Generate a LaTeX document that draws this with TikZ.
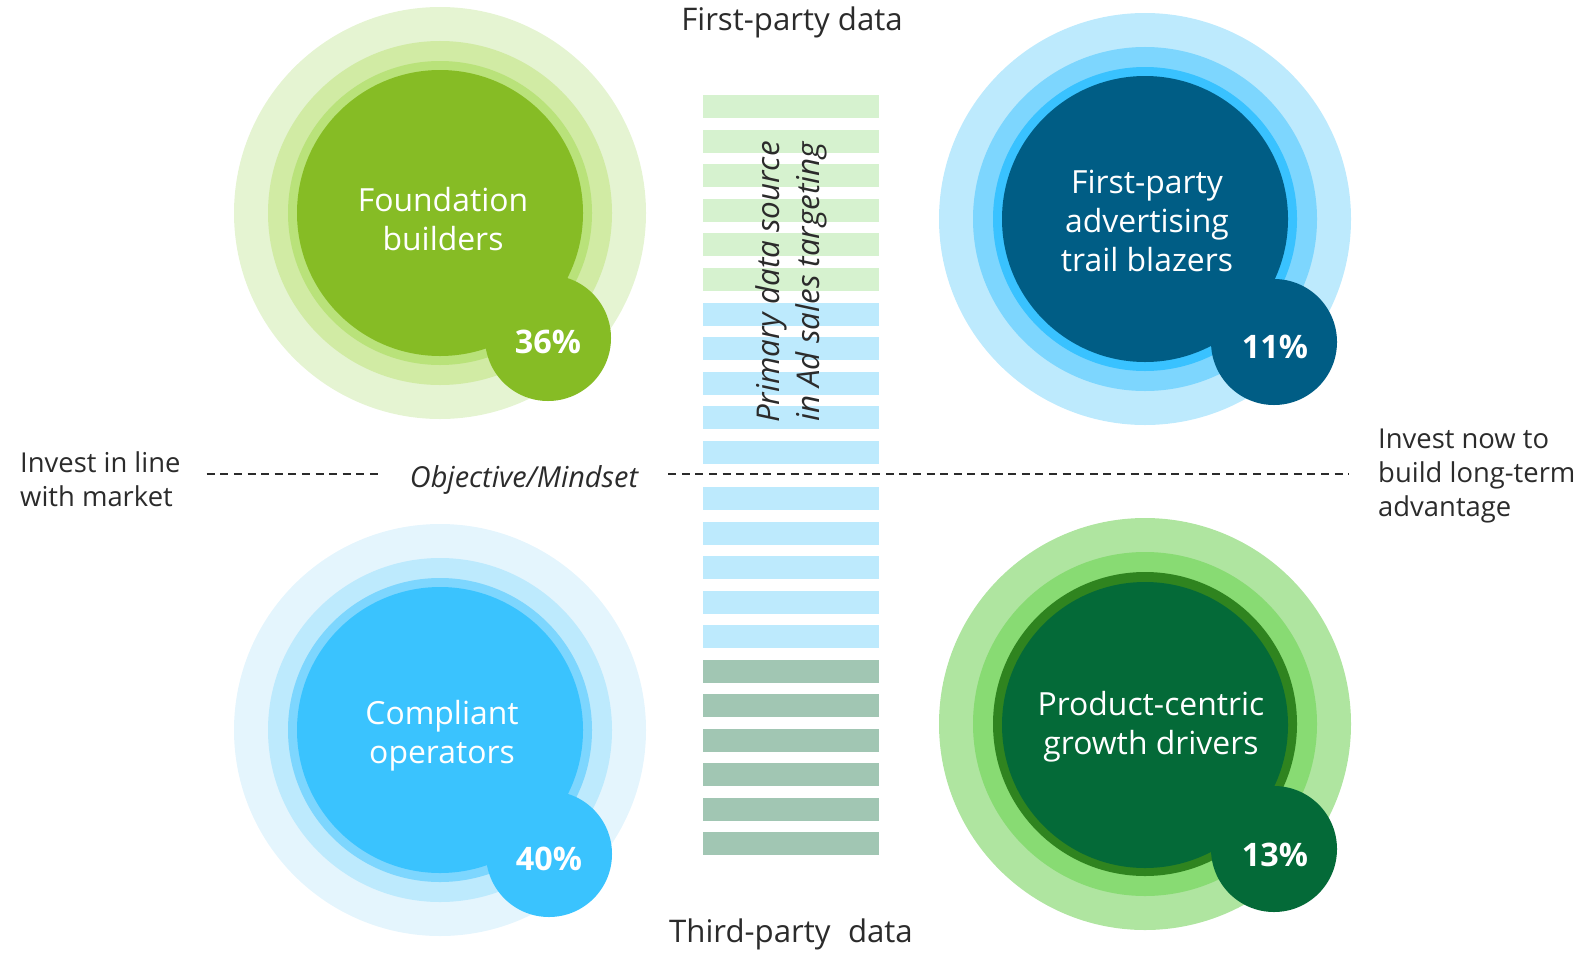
\documentclass[tikz,border=0pt]{standalone}
\usepackage{fontspec}
\setmainfont{Open Sans}
\usetikzlibrary{positioning}
% segment palettes: three halo rings, then the core
\definecolor{fbRingA}{HTML}{E5F4D2}
\definecolor{fbRingB}{HTML}{D1EBA4}
\definecolor{fbRingC}{HTML}{B9E27A}
\definecolor{fbCore}{HTML}{86BC25}
\definecolor{tbRingA}{HTML}{BDEAFD}
\definecolor{tbRingB}{HTML}{7DD6FE}
\definecolor{tbRingC}{HTML}{39C2FF}
\definecolor{tbCore}{HTML}{005D85}
\definecolor{coRingA}{HTML}{E4F5FD}
\definecolor{coRingB}{HTML}{BDEAFD}
\definecolor{coRingC}{HTML}{7DD6FE}
\definecolor{coCore}{HTML}{3AC3FE}
\definecolor{gdRingA}{HTML}{AFE5A0}
\definecolor{gdRingB}{HTML}{88DB73}
\definecolor{gdRingC}{HTML}{2F841F}
\definecolor{gdCore}{HTML}{046A38}
% data-source column
\definecolor{barFirst}{HTML}{D6F2CF}
\definecolor{barMixed}{HTML}{BDEAFD}
\definecolor{barThird}{HTML}{A1C6B3}
\definecolor{txtGray}{HTML}{2B2B2B}
\tikzset{
  % Plain filled disc, no outline.
  disc/.style={circle, inner sep=0pt, draw=none, minimum size=#1},
  % Segment name inside the core.
  seglabel/.style={text=white, align=center, inner sep=0pt,
                   font=\fontsize{32}{39}\selectfont},
  % Share badge at the lower right of the core.
  pct/.style={disc=126bp, text=white, font=\fontsize{32.5}{36}\selectfont\bfseries},
  pcttext/.style={text=white, inner sep=0pt, font=\fontsize{32.5}{36}\selectfont\bfseries},
  % Axis captions.
  sidetext/.style={text=txtGray, inner sep=0pt, font=\fontsize{27.5}{34.5}\selectfont},
  midline/.style={draw=txtGray, line width=2bp, dash pattern=on 8bp off 5.6bp},
}

\begin{document}
\begin{tikzpicture}[x=1bp, y=-1bp]
\useasboundingbox (0,0) rectangle (1588,953);

% data-source column
\foreach \i in {0,...,5}{\fill[barFirst] (703,{95+34.6*\i}) rectangle +(176,23);}
\foreach \i in {6,...,10}{\fill[barMixed] (703,{95+34.6*\i}) rectangle +(176,23);}
\foreach \i in {0,...,4}{\fill[barMixed] (703,{487+34.5*\i}) rectangle +(176,23);}
\foreach \i in {5,...,10}{\fill[barThird] (703,{487+34.5*\i}) rectangle +(176,23);}
\node[sidetext, rotate=90, align=center, font=\fontsize{31.5}{40}\selectfont\itshape]
     (source) at (791,282) {Primary data source\\in Ad sales targeting};

\node[sidetext, font=\fontsize{31.3}{36}\selectfont] (first) at (792,22) {First-party data};
\node[sidetext, font=\fontsize{31.3}{36}\selectfont] (third) at (791,934)
     {Third-party\hspace{0.3em} data};

% objective axis
\coordinate (midY) at (0,474);
\node[sidetext, anchor=west, align=left] (inLine) at (20,479) {Invest in line\\with market};
\node[sidetext, font=\fontsize{29}{35}\selectfont\itshape] (mind) at (524,480) {Objective/Mindset};
\node[sidetext, anchor=west, align=left] (longTerm) at (1378,476)
     {Invest now to\\build long-term\\advantage};
\draw[midline, shorten <=26bp, shorten >=27bp] (inLine.east |- midY) -- (mind.west |- midY);
\draw[midline, shorten <=30bp, shorten >=29bp] (mind.east |- midY) -- (longTerm.west |- midY);

% Foundation builders
\foreach \d/\c in {412/fbRingA,344/fbRingB,304/fbRingC}{
  \node[disc=\d bp, fill=\c] (fb\d) at (440,213) {};}
\node[disc=286bp, fill=fbCore] (fb) at (440,213) {};
\node[seglabel] (fbText) at (443,219) {Foundation\\builders};
\node[disc=126bp, fill=fbCore] (fbBadge) at (548,338) {};
\node[pcttext] (fbPct) at (548,342) {36\%};

% First-party advertising trail blazers
\foreach \d/\c in {412/tbRingA,344/tbRingB,304/tbRingC}{
  \node[disc=\d bp, fill=\c] (tb\d) at (1145,219) {};}
\node[disc=286bp, fill=tbCore] (tb) at (1145,219) {};
\node[seglabel] (tbText) at (1147,221) {First-party\\advertising\\trail blazers};
\node[disc=126bp, fill=tbCore] (tbBadge) at (1274,342) {};
\node[pcttext] (tbPct) at (1275,347) {11\%};

% Compliant operators
\foreach \d/\c in {412/coRingA,344/coRingB,304/coRingC}{
  \node[disc=\d bp, fill=\c] (co\d) at (440,730) {};}
\node[disc=286bp, fill=coCore] (co) at (440,730) {};
\node[seglabel] (coText) at (442,736) {Compliant\\operators};
\node[disc=126bp, fill=coCore] (coBadge) at (549,854) {};
\node[pcttext] (coPct) at (549,859) {40\%};

% Product-centric growth drivers
\foreach \d/\c in {412/gdRingA,344/gdRingB,304/gdRingC}{
  \node[disc=\d bp, fill=\c] (gd\d) at (1145,724) {};}
\node[disc=286bp, fill=gdCore] (gd) at (1145,725) {};
\node[seglabel] (gdText) at (1151,727) {Product-centric\\growth drivers};
\node[disc=126bp, fill=gdCore] (gdBadge) at (1274,849) {};
\node[pcttext] (gdPct) at (1275,855) {13\%};
\end{tikzpicture}
\end{document}
